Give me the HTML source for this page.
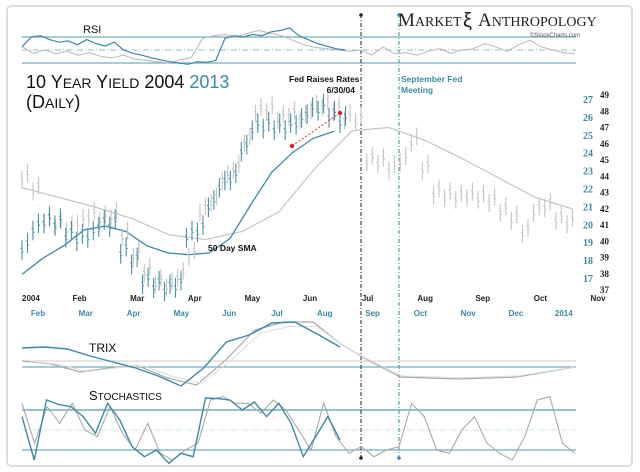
<!DOCTYPE html>
<html><head><meta charset="utf-8"><style>
body{margin:0;background:#fff;width:640px;height:472px;overflow:hidden;font-family:"Liberation Sans",sans-serif}
svg{display:block}
</style></head><body>
<svg id="c" width="640" height="472" viewBox="0 0 640 472">
<rect x="7" y="6" width="625" height="460" rx="4" fill="#fff" stroke="#ddd" stroke-width="2"/>
<g id="grid"></g>
<g id="marks"></g>
<g id="labels"></g>
</svg>
<script>
// ----- data -----
const gray2004 = [43.95,43.2,41.2,41.0,40.8,41.2,41.6,41.4,41.6,40.4,39.2,38.2,37.5,37.3,37.9,39.2,41.9,42.5,43.9,44.5,46.2,48.0,48.1,47.6,47.8,47.6,48.2,48.4,48.1,47.6,47.5,45.0,44.9,44.5,45.0,46.2,44.5,43.0,42.8,42.7,42.8,42.7,42.5,41.9,41.4,40.6,41.9,42.2,41.4,41.2];
const teal2013 = [18.7,19.8,20.2,20.1,19.4,19.2,19.4,20.0,20.0,18.5,17.9,16.8,16.6,16.4,16.6,19.4,19.7,21.1,22.2,22.6,24.2,25.4,25.5,25.4,25.4,25.7,26.3,26.5,26.1,25.8];
const graySma = [43.3,42.7,42.1,41.4,40.4,40.1,40.6,41.8,44.5,46.8,47.0,46.2,45.1,43.9,42.7,42.0];
const tealSma = [17.2,18.1,18.8,19.7,19.9,19.6,18.8,18.4,18.3,18.4,19.2,21.1,22.9,24.0,24.8,25.2];
const rsiTeal = [55,70,72,66,62,64,58,66,60,56,62,50,45,42,38,35,32,30,28,32,31,34,68,72,70,74,72,78,80,84,72,66,60,56,52,50];
const rsiGray = [55,45,50,44,48,42,46,40,38,42,36,34,32,30,35,38,68,72,74,70,76,80,76,72,65,58,54,52,50,48,50,42,55,44,46,42,48,52,45,50,52,60,55,48,58,65,55,50,46,44];
const trixGray = [3,1.5,-2.5,-0.5,0.5,-5.5,-9,3.5,18.5,22.5,22.5,11,2.5,-5,-5.5,-6,-5.5,-5,-2.5,0];
const trixTeal = [9.5,10,9,5.5,2.5,-0.5,-4.5,-9.5,-0.5,12.5,16,22,22.5,16.5,10];
const stochTeal = [70,5,95,88,85,70,45,90,65,25,10,20,0,15,10,98,97,95,80,92,70,90,60,10,40,70,35];
const stochGray = [90,30,85,60,90,50,40,85,45,20,60,15,5,20,30,95,100,90,90,75,95,80,50,20,90,40,15,25,10,20,25,90,70,20,15,50,70,30,15,5,40,95,100,30,15];
const tealTicks = [27,26,25,24,23,22,21,20,19,18,17];
const blackTicks = [49,48,47,46,45,44,43,42,41,40,39,38,37];
const monthsBlack = ["2004","Feb","Mar","Apr","May","Jun","Jul","Aug","Sep","Oct","Nov"];
const monthsTeal = ["Feb","Mar","Apr","May","Jun","Jul","Aug","Sep","Oct","Nov","Dec","2014"];

const NS="http://www.w3.org/2000/svg";
const TEAL="#3b8aa3", GRAY="#b8b8b8";
const X0=22, X1=575, TX1=345;
function yG(v){return 95+(49-v)*16.25;}
function yT(v){return 99+(27-v)*17.9;}
function yR(v){return 50-(v-50)*0.65;}
function yX(v){return 367-v*2;}
function yS(v){return 450-(v-20)*0.667;}
function xs(n,i,a,b){return a+(b-a)*i/(n-1);}
function mk(tag,attrs,parent){const e=document.createElementNS(NS,tag);for(const k in attrs)e.setAttribute(k,attrs[k]);(parent||document.getElementById('marks')).appendChild(e);return e;}
function line(arr,fy,a,b,color,w,name){
  const pts=arr.map((v,i)=>xs(arr.length,i,a,b).toFixed(1)+","+fy(v).toFixed(1)).join(" ");
  const p=mk('polyline',{points:pts,fill:'none',stroke:color,'stroke-width':w});
  
  
}
const grid=document.getElementById('grid');
[[37,TEAL,'',1.2],[50,TEAL,'6,2,1,2',0.8],[63,TEAL,'',1.2],[361,GRAY,'',1],[367,TEAL,'',1.2],[410,TEAL,'',1.5],[430,"#9cc",'6,2,1,2',0.8],[450,TEAL,'',1.2]].forEach(g=>{
  const l=mk('line',{x1:X0,x2:576,y1:g[0],y2:g[0],stroke:g[1],'stroke-width':g[3],'stroke-dasharray':g[2],opacity:0.7},grid);
  
  
});
let v1=mk('line',{x1:361,x2:361,y1:14,y2:458,stroke:'#222','stroke-width':1,'stroke-dasharray':'4,2,1,2'},grid);


let v2=mk('line',{x1:399,x2:399,y1:14,y2:458,stroke:TEAL,'stroke-width':1,'stroke-dasharray':'4,2,1,2'},grid);


[[361,'#222'],[399,TEAL]].forEach(d=>{[15,458].forEach(y=>{const c=mk('circle',{cx:d[0],cy:y,r:1.8,fill:d[1]},grid);

});});

line(rsiGray,yR,X0,X1,GRAY,1,'rsi-2004-line');
line(rsiTeal,yR,X0,TX1,TEAL,1.2,'rsi-2013-line');
line(graySma,yG,X0,572,"#c8c8c8",1.3,'sma-2004-line');
line(tealSma,yT,X0,334,TEAL,1.3,'sma-2013-line');
function bars(arr,fy,a,b,color,name){
  arr.forEach((v,i)=>{
    const x=xs(arr.length,i,a,b);
    for(let k=0;k<2;k++){
      const xx=x+k*5.5, vv=v+(k?0.25:-0.15);
      const hi=fy(vv+0.55), lo=fy(vv-0.55);
      const g=mk('path',{d:`M${xx},${hi}V${lo}M${xx-1.5},${fy(vv+0.1)}h1.5M${xx},${fy(vv-0.1)}h1.5`,stroke:color,'stroke-width':1.1,fill:'none'});
      
      
    }
  });
}
bars(gray2004,yG,X0,567,"#c4c4c4",'bar-2004');
bars(teal2013,yT,X0,340,"#4a90a8",'bar-2013');
let rl=mk('line',{x1:292,y1:146,x2:340,y2:113,stroke:'#d33','stroke-width':1,'stroke-dasharray':'2,2'});


[[292,146],[340,113]].forEach(p=>{const c=mk('circle',{cx:p[0],cy:p[1],r:2.2,fill:'#d22'});

});
line(trixGray,yX,X0,X1,"#aaa",1.2,'trix-2004-line');
line(trixGray.map(v=>v*0.9),yX,X0+8,X1,"#ddd",1,'trix-2004-signal');
line(trixTeal,yX,X0,340,TEAL,1.4,'trix-2013-line');
line(stochGray,yS,X0,X1,"#aaa",1.1,'stoch-2004-line');
line(stochTeal,yS,X0,340,TEAL,1.4,'stoch-2013-line');

const L=document.getElementById('labels');
function txt(s,x,y,attrs,name){const t=mk('text',Object.assign({x:x,y:y},attrs),L);t.textContent=s;

return t;}
tealTicks.forEach(v=>txt(v,583,yT(v)+4,{'font-size':10,'font-weight':'bold',fill:TEAL,'font-family':'Liberation Serif,serif'},'y-tick-2013'));
blackTicks.forEach(v=>txt(v,600,yG(v)+3,{'font-size':9,'font-weight':'bold',fill:'#222','font-family':'Liberation Serif,serif'},'y-tick-2004'));
monthsBlack.forEach((m,i)=>txt(m,22+i*57.6,301,{'font-size':8,'font-weight':'bold',fill:'#222','text-anchor':i==0?'start':'middle'},'x-tick-2004'));
monthsTeal.forEach((m,i)=>txt(m,38+i*47.8,316,{'font-size':8,'font-weight':'bold',fill:TEAL,'text-anchor':'middle'},'x-tick-2013'));
</script>
<svg width="640" height="472" style="position:absolute;left:0;top:0">
<text x="83" y="33" font-size="11" fill="#111">RSI</text>
<text x="89" y="352" font-size="12" fill="#111">TRIX</text>
<text x="89" y="400" font-size="13" fill="#111">S<tspan font-size="10">TOCHASTICS</tspan></text>
<text x="26" y="88" font-size="18" fill="#111">10 Y<tspan font-size="14">EAR</tspan> Y<tspan font-size="14">IELD</tspan>  2004  <tspan fill="#3b8aa3">2013</tspan></text>
<text x="26" y="108" font-size="18" fill="#111">(D<tspan font-size="14">AILY</tspan>)</text>
<text x="398" y="26" font-size="19" fill="#222" font-family="Liberation Serif,serif">M<tspan font-size="14">ARKET</tspan></text>
<text x="463" y="27" font-size="20" fill="#222">ξ</text>
<text x="478" y="26" font-size="19" fill="#222" font-family="Liberation Serif,serif">A<tspan font-size="14">NTHROPOLOGY</tspan></text>
<text x="530" y="37" font-size="6" fill="#555">©StockCharts.com</text>
<text x="289" y="82" font-size="8.5" font-weight="bold" fill="#111">Fed Raises Rates</text>
<text x="355" y="93" font-size="8.5" font-weight="bold" fill="#111" text-anchor="end">6/30/04</text>
<text x="401" y="82" font-size="8.5" font-weight="bold" fill="#3b8aa3">September Fed</text>
<text x="401" y="93" font-size="8.5" font-weight="bold" fill="#3b8aa3">Meeting</text>
<text x="208" y="251" font-size="8.5" font-weight="bold" fill="#111">50 Day SMA</text>
</svg>
</body></html>
